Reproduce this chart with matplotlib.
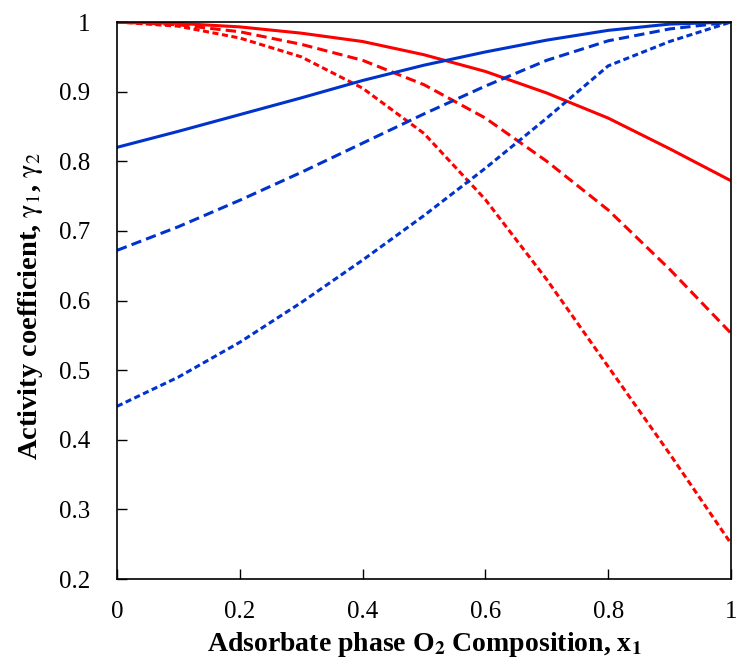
import numpy as np
import matplotlib
matplotlib.use("Agg")
from matplotlib import pyplot as plt
from matplotlib.ticker import FuncFormatter

# adsorbate phase composition x1
x1 = [0.0, 0.1, 0.2, 0.3, 0.4, 0.5, 0.6, 0.7, 0.8, 0.9, 1.0]

# gamma_1 (red) and gamma_2 (blue) for three cases
gamma1_solid = [1.0, 0.998, 0.993, 0.984, 0.972, 0.953, 0.929, 0.898, 0.862, 0.818, 0.772]
gamma1_dashed = [1.0, 0.996, 0.986, 0.968, 0.945, 0.910, 0.862, 0.800, 0.730, 0.645, 0.553]
gamma1_dotted = [1.0, 0.994, 0.977, 0.950, 0.905, 0.840, 0.745, 0.630, 0.505, 0.380, 0.251]

gamma2_solid = [0.820, 0.843, 0.867, 0.891, 0.916, 0.938, 0.957, 0.974, 0.988, 0.997, 1.0]
gamma2_dashed = [0.672, 0.706, 0.744, 0.784, 0.826, 0.868, 0.908, 0.945, 0.973, 0.990, 1.0]
gamma2_dotted = [0.448, 0.490, 0.540, 0.597, 0.658, 0.722, 0.790, 0.862, 0.937, 0.972, 1.0]

RED = "#ff0000"
BLUE = "#0033cc"

plt.rcParams["font.family"] = ["Liberation Serif", "DejaVu Serif"]
plt.rcParams["mathtext.fontset"] = "stix"

fig = plt.figure(figsize=(7.38, 6.65), dpi=100)
ax = fig.add_axes([0.1585, 0.1293, 0.832, 0.8376])

lw = 2.2
ax.plot(x1, gamma1_solid, color=RED, lw=lw)
ax.plot(x1, gamma1_dashed, color=RED, lw=lw, dashes=(3.4, 1.7))
ax.plot(x1, gamma1_dotted, color=RED, lw=lw, dashes=(2, 1.15))
ax.plot(x1, gamma2_solid, color=BLUE, lw=lw)
ax.plot(x1, gamma2_dashed, color=BLUE, lw=lw, dashes=(3.4, 1.7))
ax.plot(x1, gamma2_dotted, color=BLUE, lw=lw, dashes=(2, 1.15))

ax.set_xlim(0, 1)
ax.set_ylim(0.2, 1)
ax.set_xticks(np.arange(0, 1.01, 0.2))
ax.set_yticks(np.arange(0.2, 1.01, 0.1))
fmt = FuncFormatter(lambda v, p: f"{v:g}")
ax.xaxis.set_major_formatter(fmt)
ax.yaxis.set_major_formatter(fmt)

ax.tick_params(axis="both", direction="in", length=7, width=1, labelsize=18)
ax.tick_params(axis="x", pad=16)
ax.tick_params(axis="y", pad=19)
for s in ax.spines.values():
    s.set_linewidth(1.2)
    s.set_color("black")

ax.set_xlabel(r"Adsorbate phase O$_\mathbf{2}$ Composition, x$_\mathbf{1}$",
              fontsize=20, fontweight="bold")
ax.set_ylabel(r"Activity coefficient, $\mathrm{\gamma}_1$, $\mathrm{\gamma}_2$",
              fontsize=20.5, fontweight="bold")
ax.xaxis.label.set_va("baseline")
ax.xaxis.set_label_coords(0.5, -0.129)
ax.yaxis.label.set_rotation_mode("anchor")
ax.yaxis.label.set_va("baseline")
ax.yaxis.set_label_coords(-0.130, 0.49)

fig.savefig("out.png", dpi=100)
